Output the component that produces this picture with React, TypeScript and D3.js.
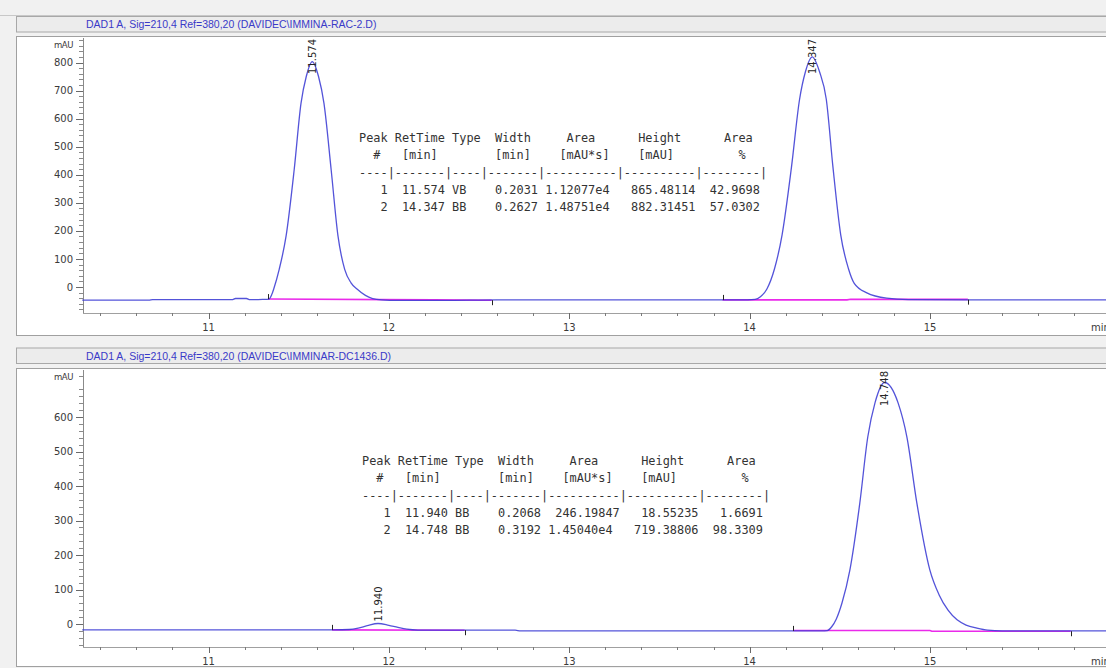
import React from "react";
import * as d3 from "d3";

type Pt = [number, number];
type Marker = [number, number, number]; // time, mAU, direction (1 up, -1 down)

// ---------------- data ----------------
const xTickLabels = [11, 12, 13, 14, 15];
const topYTickLabels = [0, 100, 200, 300, 400, 500, 600, 700, 800];
const bottomYTickLabels = [0, 100, 200, 300, 400, 500, 600];

const topTitle = "DAD1 A, Sig=210,4 Ref=380,20 (DAVIDEC\\IMMINA-RAC-2.D)";
const bottomTitle = "DAD1 A, Sig=210,4 Ref=380,20 (DAVIDEC\\IMMINAR-DC1436.D)";

const topSignal: Pt[] = [
  [10.3, -47], [10.67, -47], [10.69, -45], [11.13, -45], [11.15, -41], [11.21, -41], [11.23, -45], [11.3, -44],
  [11.335, -43], [11.35, -28], [11.362, -6], [11.392, 63], [11.43, 181], [11.475, 418], [11.513, 655],
  [11.542, 750], [11.575, 803], [11.61, 750], [11.64, 655], [11.68, 418], [11.718, 181], [11.755, 63],
  [11.79, 15], [11.825, -8], [11.87, -30], [11.91, -41], [11.96, -46], [12.05, -48], [12.3, -48],
  [12.6, -46], [13.95, -46], [14.03, -44], [14.06, -35], [14.095, -8], [14.138, 65], [14.18, 186],
  [14.232, 427], [14.277, 669], [14.309, 766], [14.347, 820], [14.388, 766], [14.425, 669], [14.462, 427],
  [14.505, 186], [14.548, 65], [14.58, 13], [14.65, -21], [14.76, -40], [14.88, -45], [15.2, -46], [15.98, -46],
];
const topIntegration: Pt[][] = [
  [[11.33, -43], [12.25, -46], [12.57, -47]],
  [[13.85, -46], [14.54, -46], [14.56, -43.5], [15.21, -44]],
];
const topMarkers: Marker[] = [[11.33, -43, 1], [12.57, -47, -1], [13.85, -46, 1], [15.21, -45, -1]];
const topPeakTimes = ["11.574", "14.347"];
const topPeakApex = [803, 820];

const bottomSignal: Pt[] = [
  [10.3, -17], [11.7, -17], [11.78, -16], [11.83, -12], [11.88, -5], [11.94, 1.5], [12.0, -4], [12.05, -10],
  [12.1, -15], [12.16, -17.5], [12.4, -18], [12.7, -18], [12.73, -20], [14.4, -20], [14.43, -19],
  [14.455, -8], [14.48, 14], [14.512, 61], [14.556, 157], [14.611, 351], [14.655, 542], [14.695, 641],
  [14.748, 700], [14.823, 641], [14.872, 542], [14.927, 351], [14.999, 157], [15.05, 85], [15.1, 40],
  [15.15, 12], [15.2, -3], [15.26, -12], [15.32, -18], [15.4, -20], [15.98, -20],
];
const bottomIntegration: Pt[][] = [
  [[11.685, -17], [12.42, -18]],
  [[14.24, -19], [15.0, -19], [15.01, -21], [15.78, -21]],
];
const bottomMarkers: Marker[] = [[11.685, -17, 1], [12.42, -18, -1], [14.24, -20, 1], [15.78, -21, -1]];
const bottomPeakTimes = ["11.940", "14.748"];
const bottomPeakApex = [1.5, 700];

const tableHeader = [
  "Peak RetTime Type  Width     Area      Height      Area  ",
  "  #   [min]        [min]    [mAU*s]    [mAU]         %   ",
  "----|-------|----|-------|----------|----------|--------|",
];
const topTableRows = [
  "   1  11.574 VB    0.2031 1.12077e4   865.48114  42.9698",
  "   2  14.347 BB    0.2627 1.48751e4   882.31451  57.0302",
];
const bottomTableRows = [
  "   1  11.940 BB    0.2068  246.19847   18.55235   1.6691",
  "   2  14.748 BB    0.3192 1.45040e4   719.38806  98.3309",
];

// ---------------- drawing ----------------
const W = 1106;
const H = 668;
const BLUE = "#3b3bd4";
const MAGENTA = "#ea2aea";
const AXIS_X = 83;

interface PanelProps {
  title: string;
  titleTop: number;
  frameTop: number;
  frameBottom: number;
  plotTop: number;
  axisY: number;
  zeroPx: number;
  refVal: number;
  refPx: number;
  yTicks: number[];
  minorFrom: number;
  minorTo: number;
  signal: Pt[];
  integration: Pt[][];
  markers: Marker[];
  peakTimes: string[];
  peakApex: number[];
  rows: string[];
  tableX: number;
  tableY: number;
}

function Panel(p: PanelProps) {
  const x = d3.scaleLinear().domain([11, 15]).range([208.5, 930]);
  const y = d3.scaleLinear().domain([0, p.refVal]).range([p.zeroPx, p.refPx]);
  const line = d3
    .line<Pt>()
    .x((d) => x(d[0]))
    .y((d) => y(d[1]))
    .curve(d3.curveMonotoneX);
  const straight = d3
    .line<Pt>()
    .x((d) => x(d[0]))
    .y((d) => y(d[1]));
  const minorX = d3
    .range(104, 160, 2)
    .filter((v) => v % 10 !== 0)
    .map((v) => v / 10);
  const minorY = d3.range(p.minorFrom, p.minorTo + 1, 20).filter((v) => v % 100 !== 0);
  const tableLines = [...tableHeader, ...p.rows];

  return (
    <g>
      <rect x={16.5} y={p.titleTop + 0.5} width={1100} height={15.5} fill="#ececec" stroke="#a8a8a8" />
      <text
        x={86}
        y={p.titleTop + 12}
        fontFamily="Liberation Sans, Arial, sans-serif"
        fontSize={10.5}
        fill="#3a3ac8"
      >
        {p.title}
      </text>
      <rect
        x={16.5}
        y={p.frameTop + 0.5}
        width={1100}
        height={p.frameBottom - p.frameTop}
        fill="#ffffff"
        stroke="#a0a0a0"
      />

      {/* y axis */}
      <line x1={AXIS_X + 0.5} x2={AXIS_X + 0.5} y1={p.plotTop} y2={p.axisY} stroke="#8a8a8a" />
      {minorY.map((v) => (
        <line key={"my" + v} x1={AXIS_X - 4} x2={AXIS_X} y1={Math.round(y(v)) + 0.5} y2={Math.round(y(v)) + 0.5} stroke="#8a8a8a" />
      ))}
      {p.yTicks.map((v) => (
        <g key={"y" + v}>
          <line x1={AXIS_X - 7} x2={AXIS_X} y1={Math.round(y(v)) + 0.5} y2={Math.round(y(v)) + 0.5} stroke="#6a6a6a" />
          <text
            x={73}
            y={y(v)}
            dy="0.36em"
            textAnchor="end"
            fontFamily="DejaVu Sans, sans-serif"
            fontSize={10}
            fill="#3a3a3a"
          >
            {v}
          </text>
        </g>
      ))}
      <text
        x={73}
        y={p.plotTop + 10}
        textAnchor="end"
        fontFamily="DejaVu Sans, sans-serif"
        fontSize={8.5}
        letterSpacing={-0.4}
        fill="#3a3a3a"
      >
        mAU
      </text>

      {/* x axis */}
      <line x1={AXIS_X} x2={W} y1={p.axisY + 0.5} y2={p.axisY + 0.5} stroke="#a0a0a0" />
      {minorX.map((v) => (
        <line key={"mx" + v} x1={Math.round(x(v)) + 0.5} x2={Math.round(x(v)) + 0.5} y1={p.axisY} y2={p.axisY + 3} stroke="#7a7a7a" />
      ))}
      {xTickLabels.map((v) => (
        <g key={"x" + v}>
          <line x1={Math.round(x(v)) + 0.5} x2={Math.round(x(v)) + 0.5} y1={p.axisY} y2={p.axisY + 6} stroke="#6a6a6a" />
          <text
            x={x(v)}
            y={p.axisY + 17.5}
            textAnchor="middle"
            fontFamily="DejaVu Sans, sans-serif"
            fontSize={10}
            fill="#3a3a3a"
          >
            {v}
          </text>
        </g>
      ))}
      <text x={1091} y={p.axisY + 17.5} fontFamily="DejaVu Sans, sans-serif" fontSize={10} fill="#3a3a3a">
        min
      </text>

      {/* integration baselines */}
      {p.integration.map((seg, i) => (
        <path key={"ig" + i} d={straight(seg) || ""} fill="none" stroke={MAGENTA} strokeWidth={1.6} />
      ))}

      {/* signal */}
      <path d={line(p.signal) || ""} fill="none" stroke={BLUE} strokeWidth={1.3} strokeOpacity={0.88} />

      {/* peak markers */}
      {p.markers.map((m, i) => (
        <line
          key={"mk" + i}
          x1={Math.round(x(m[0])) + 0.5}
          x2={Math.round(x(m[0])) + 0.5}
          y1={y(m[1])}
          y2={y(m[1]) - 5 * m[2]}
          stroke="#222"
          strokeWidth={1}
        />
      ))}

      {/* peak labels */}
      {p.peakTimes.map((t, i) => {
        const px = x(+t);
        const apexY = y(p.peakApex[i]);
        const startY = Math.max(apexY - 2, p.plotTop + 36);
        return (
          <text
            key={"pl" + i}
            transform={`translate(${px + 3.6},${startY}) rotate(-90)`}
            fontFamily="DejaVu Sans, sans-serif"
            fontSize={10}
            fill="#262626"
          >
            {t}
          </text>
        );
      })}

      {/* results table */}
      {tableLines.map((s, i) => (
        <text
          key={"tb" + i}
          x={p.tableX}
          y={p.tableY + i * 17.1}
          xmlSpace="preserve"
          style={{ whiteSpace: "pre" }}
          fontFamily="DejaVu Sans Mono, monospace"
          fontSize={11.9}
          fill="#333"
        >
          {s}
        </text>
      ))}
    </g>
  );
}

export default function App() {
  return (
    <div style={{ position: "absolute", left: 0, top: 0, width: W, height: H, overflow: "hidden" }}>
      <svg width={W} height={H} style={{ display: "block" }}>
        <rect width={W} height={H} fill="#f1f1f1" />
        <line x1={0} x2={W} y1={15.5} y2={15.5} stroke="#c8c8c8" />
        <Panel
          title={topTitle}
          titleTop={16}
          frameTop={36}
          frameBottom={335}
          plotTop={38}
          axisY={313}
          zeroPx={287}
          refVal={800}
          refPx={62.5}
          yTicks={topYTickLabels}
          minorFrom={-80}
          minorTo={880}
          signal={topSignal}
          integration={topIntegration}
          markers={topMarkers}
          peakTimes={topPeakTimes}
          peakApex={topPeakApex}
          rows={topTableRows}
          tableX={359}
          tableY={142.3}
        />
        <Panel
          title={bottomTitle}
          titleTop={347.5}
          frameTop={368}
          frameBottom={666}
          plotTop={370}
          axisY={647}
          zeroPx={624}
          refVal={600}
          refPx={417}
          yTicks={bottomYTickLabels}
          minorFrom={-60}
          minorTo={720}
          signal={bottomSignal}
          integration={bottomIntegration}
          markers={bottomMarkers}
          peakTimes={bottomPeakTimes}
          peakApex={bottomPeakApex}
          rows={bottomTableRows}
          tableX={362}
          tableY={465.3}
        />
      </svg>
    </div>
  );
}
